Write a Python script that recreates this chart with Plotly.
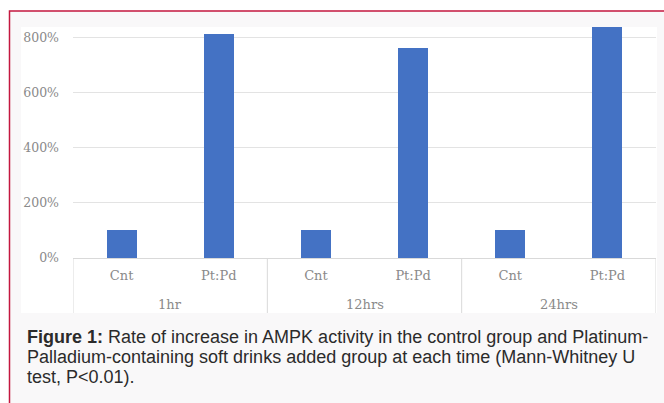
import plotly.graph_objects as go

groups = ["1hr", "12hrs", "24hrs"]
subcats = ["Cnt", "Pt:Pd"]
cnt_values = [100, 100, 100]
ptpd_values = [812, 764, 850]
y_ticks = [0, 200, 400, 600, 800]
y_ticklabels = ["0%", "200%", "400%", "600%", "800%"]
caption_lines = [
    "<b>Figure 1:</b> Rate of increase in AMPK activity in the control group and Platinum-",
    "Palladium-containing soft drinks added group at each time (Mann-Whitney U",
    "test, P<0.01).",
]

# build categories
keys, labels, vals = [], [], []
for g, c, p in zip(groups, cnt_values, ptpd_values):
    for s, v in zip(subcats, [c, p]):
        keys.append(f"{g}|{s}")
        labels.append(s)
        vals.append(v)

W, H = 664, 403
L, R, T, B = 73, 656, 27, 258  # plot area pixel bounds
pw, ph = R - L, B - T

def px(x):
    return (x - L) / pw

def py(y):
    return (B - y) / ph

fig = go.Figure()
fig.add_trace(go.Bar(x=keys, y=vals, marker_color="#4472c4", marker_line_width=0,
                     width=0.31, hoverinfo="skip"))

serif = "DejaVu Serif"
tick_color = "#8a8a8a"

shapes = [
    # outer box with crimson border
    dict(type="rect", xref="paper", yref="paper", x0=px(9.5), x1=px(680),
         y0=py(420), y1=py(11), fillcolor="#f9f8f9",
         line=dict(color="#c4173f", width=1.5), layer="below"),
    # white chart panel
    dict(type="rect", xref="paper", yref="paper", x0=px(21), x1=px(657),
         y0=py(313), y1=py(27), fillcolor="#ffffff", line=dict(width=0),
         layer="below"),
]
for xv in [-0.5, 1.5, 3.5, 5.5]:
    shapes.append(dict(type="line", xref="x", yref="paper", x0=xv, x1=xv,
                       y0=0, y1=py(313), line=dict(color="#d9d9d9", width=1)))

annotations = []
for i, g in enumerate(groups):
    annotations.append(dict(x=keys[2 * i], xshift=pw / 12, y=py(304), xref="x", yref="paper",
                            text=g, showarrow=False, xanchor="center", yanchor="middle",
                            font=dict(family=serif, size=13, color=tick_color)))
for j, line in enumerate(caption_lines):
    annotations.append(dict(x=px(25), y=py(337 + 20 * j), xref="paper", yref="paper",
                            text=line, showarrow=False, xanchor="left", yanchor="middle",
                            align="left",
                            font=dict(family="Liberation Sans", size=18, color="#2b2b2b")))

fig.update_layout(
    width=W, height=H,
    margin=dict(l=L, r=W - R, t=T, b=H - B, pad=0),
    paper_bgcolor="#ffffff", plot_bgcolor="rgba(0,0,0,0)",
    showlegend=False, bargap=0,
    shapes=shapes, annotations=annotations,
    xaxis=dict(type="category", categoryorder="array", categoryarray=keys,
               tickvals=keys, ticktext=labels, range=[-0.5, 5.5],
               showgrid=False, showline=True, linecolor="#d9d9d9", linewidth=1,
               ticks="", ticklabelstandoff=5,
               tickfont=dict(family=serif, size=13, color=tick_color)),
    yaxis=dict(range=[0, 839], tickvals=y_ticks, ticktext=y_ticklabels,
               showgrid=True, gridcolor="#e3e3e3", gridwidth=1, zeroline=False,
               showline=False, ticks="", ticklabelstandoff=13,
               tickfont=dict(family=serif, size=12.5, color=tick_color)),
)

fig.write_html("out.html", config={"displayModeBar": False},
               post_script="document.body.style.margin='0';document.body.style.overflow='hidden';")
